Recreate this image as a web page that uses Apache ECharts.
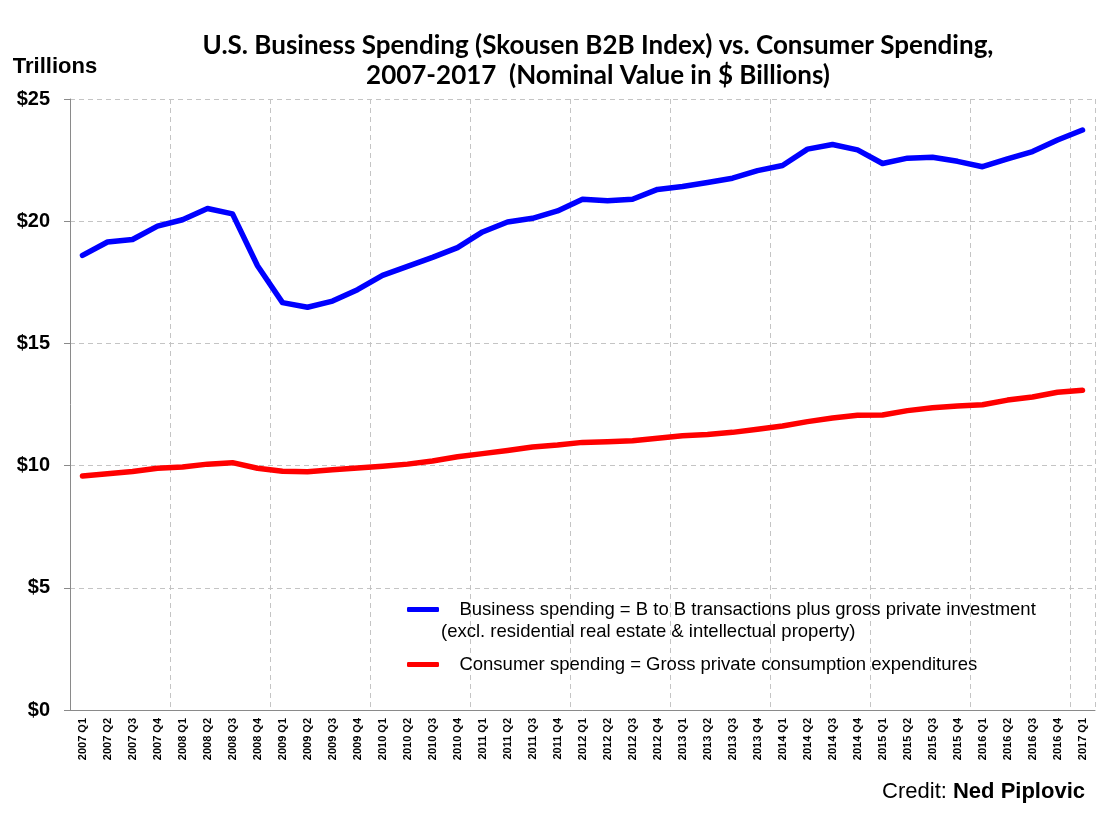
<!DOCTYPE html>
<html>
<head>
<meta charset="utf-8">
<title>Business vs Consumer Spending</title>
<script src="https://cdn.jsdelivr.net/npm/echarts@6/dist/echarts.min.js"></script>
<style>
  html, body { margin: 0; padding: 0; background: #fff; }
  #chart { width: 1107px; height: 814px; }
</style>
</head>
<body>
<div id="chart"></div>
<script>
// quarters 2007 Q1 .. 2017 Q1
const quarters = [];
for (let y = 2007; y <= 2017; y++) {
  for (let q = 1; q <= 4; q++) {
    if (y === 2017 && q > 1) break;
    quarters.push(y + ' Q' + q);
  }
}

const businessName = 'Business spending = B to B transactions plus gross private investment';
const businessNote = '(excl. residential real estate & intellectual property)';
const consumerName = 'Consumer spending = Gross private consumption expenditures';

// values in $ trillions
const business = [
  18.6, 19.15, 19.25, 19.8, 20.06, 20.52, 20.3, 18.18,
  16.67, 16.48, 16.73, 17.2, 17.78, 18.15, 18.52, 18.92,
  19.56, 19.97, 20.12, 20.42, 20.9, 20.84, 20.9, 21.3,
  21.42, 21.58, 21.76, 22.07, 22.28, 22.95, 23.14, 22.92,
  22.36, 22.58, 22.62, 22.45, 22.23, 22.55, 22.85, 23.32,
  23.73
];
const consumer = [
  9.57, 9.67, 9.76, 9.89, 9.94, 10.06, 10.12, 9.89,
  9.77, 9.75, 9.83, 9.9, 9.97, 10.06, 10.19, 10.36,
  10.49, 10.62, 10.76, 10.84, 10.95, 10.98, 11.02, 11.12,
  11.22, 11.27, 11.36, 11.49, 11.62, 11.8, 11.95, 12.06,
  12.07, 12.25, 12.37, 12.44, 12.49, 12.68, 12.81, 13.0,
  13.08
];
const yTicks = [0, 5, 10, 15, 20, 25];

const arial = '"Liberation Sans", Arial, sans-serif';
const gridLine = { show: true, lineStyle: { color: '#c4c4c4', type: [5, 4], width: 1 } };
const legendText = { fontFamily: arial, fontSize: 18.5, lineHeight: 23, color: '#000' };

const chart = echarts.init(document.getElementById('chart'));
chart.setOption({
  animation: false,
  title: [
    {
      text: 'U.S. Business Spending (Skousen B2B Index) vs. Consumer Spending,\n2007-2017  (Nominal Value in $ Billions)',
      left: 593,
      top: 26,
      textAlign: 'center',
      textStyle: { fontFamily: 'Lato, sans-serif', fontWeight: 'bold', fontSize: 26, lineHeight: 30, color: '#000' }
    },
    {
      // second line of the business legend entry
      text: businessNote,
      left: 441,
      top: 620,
      padding: 0,
      textStyle: Object.assign({ fontWeight: 'normal' }, legendText)
    },
    {
      text: '{a|Credit: }{b|Ned Piplovic}',
      right: 22,
      top: 781,
      padding: 0,
      textStyle: {
        rich: {
          a: { fontFamily: arial, fontSize: 22, fontWeight: 'normal', color: '#000' },
          b: { fontFamily: arial, fontSize: 22, fontWeight: 'bold', color: '#000' }
        }
      }
    }
  ],
  legend: [
    {
      data: [businessName],
      left: 407,
      top: 598,
      padding: 0,
      icon: 'roundRect',
      itemWidth: 32,
      itemHeight: 5,
      formatter: (n) => '   ' + n,
      textStyle: legendText
    },
    {
      data: [consumerName],
      left: 407,
      top: 653,
      padding: 0,
      icon: 'roundRect',
      itemWidth: 32,
      itemHeight: 5,
      formatter: (n) => '   ' + n,
      textStyle: legendText
    }
  ],
  grid: { left: 70, top: 99, width: 1025, height: 611, containLabel: false },
  xAxis: {
    type: 'category',
    data: quarters,
    boundaryGap: true,
    axisLine: { lineStyle: { color: '#8a8a8a', width: 1 } },
    axisTick: { interval: 3, length: 5, lineStyle: { color: '#8a8a8a' } },
    splitLine: Object.assign({ interval: 3 }, gridLine),
    axisLabel: {
      interval: 0,
      rotate: 90,
      margin: 8,
      fontFamily: arial,
      fontWeight: 'bold',
      fontSize: 11,
      color: '#000'
    }
  },
  yAxis: {
    type: 'value',
    min: yTicks[0],
    max: yTicks[yTicks.length - 1],
    interval: 5,
    name: 'Trillions',
    nameLocation: 'end',
    nameGap: 32,
    nameTextStyle: {
      fontFamily: arial, fontWeight: 'bold', fontSize: 22, color: '#000',
      align: 'center', verticalAlign: 'middle', padding: [0, 30, 0, 0]
    },
    axisLine: { show: true, lineStyle: { color: '#8a8a8a', width: 1 } },
    axisTick: { show: true, length: 6, lineStyle: { color: '#8a8a8a' } },
    splitLine: gridLine,
    axisLabel: {
      margin: 20,
      fontFamily: arial,
      fontWeight: 'bold',
      fontSize: 20,
      color: '#000',
      formatter: (v) => '$' + v
    }
  },
  series: [
    {
      name: businessName,
      type: 'line',
      data: business,
      symbol: 'none',
      color: '#0000ff',
      lineStyle: { width: 5.5, color: '#0000ff', cap: 'round', join: 'round' }
    },
    {
      name: consumerName,
      type: 'line',
      data: consumer,
      symbol: 'none',
      color: '#ff0000',
      lineStyle: { width: 5.5, color: '#ff0000', cap: 'round', join: 'round' }
    }
  ]
});
</script>
</body>
</html>
